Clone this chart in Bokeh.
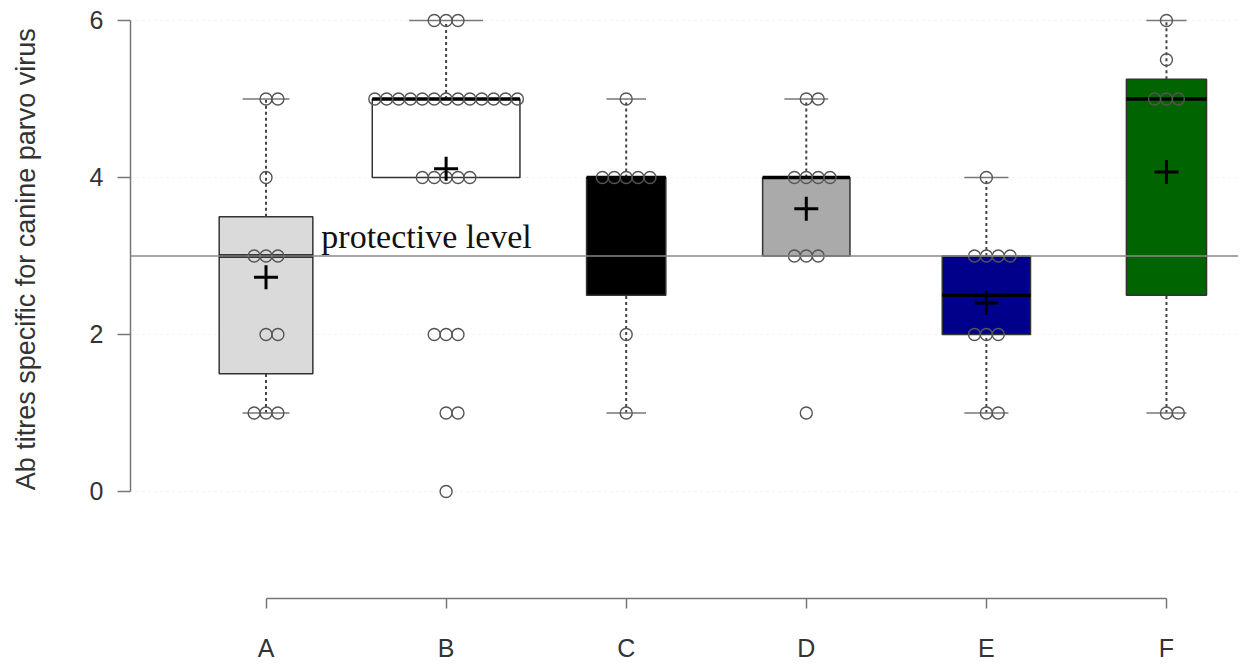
from collections import Counter
from bokeh.plotting import figure
from bokeh.models import Range1d, FixedTicker, Span, Label, LinearAxis
from bokeh.embed import file_html
from bokeh.resources import INLINE

# ---------------- data ----------------
groups = ["A", "B", "C", "D", "E", "F"]
group_pos = [1, 2, 3, 4, 5, 6]
q1 = [1.5, 4.0, 2.5, 3.0, 2.0, 2.5]
medians = [3.0, 5.0, 4.0, 4.0, 2.5, 5.0]
q3 = [3.5, 5.0, 4.0, 4.0, 3.0, 5.25]
whisker_low = [1.0, 4.0, 1.0, 3.0, 1.0, 1.0]
whisker_high = [5.0, 6.0, 5.0, 5.0, 4.0, 6.0]
means = [2.73, 4.11, 3.5, 3.6, 2.4, 4.07]

values_A = [5, 5, 4, 3, 3, 3, 2, 2, 1, 1, 1]
values_B = [6, 6, 6] + [5] * 13 + [4] * 5 + [2, 2, 2, 1, 1, 0]
values_C = [5, 4, 4, 4, 4, 4, 2, 1]
values_D = [5, 5, 4, 4, 4, 4, 3, 3, 3, 1]
values_E = [4, 3, 3, 3, 3, 2, 2, 2, 1, 1]
values_F = [6, 5.5, 5, 5, 5, 1, 1]
all_values = [values_A, values_B, values_C, values_D, values_E, values_F]

protective_level = 3
y_ticks = [0, 2, 4, 6]
y_title = "Ab titres  specific for canine parvo virus"

# ---------------- styles ----------------
box_widths = [0.52, 0.82, 0.44, 0.485, 0.49, 0.445]
box_fills = ["#dadada", "#ffffff", "#000000", "#aaaaaa", "#00008b", "#006400"]
pt_step = 0.066

p = figure(width=1238, height=664, output_backend="svg", toolbar_location=None,
           x_range=Range1d(0.2475, 6.4), y_range=Range1d(-0.115, 6.127),
           x_axis_location=None,
           min_border_left=130, min_border_right=0, min_border_top=10,
           min_border_bottom=164)
p.outline_line_color = None
p.background_fill_color = "white"
p.xgrid.grid_line_color = None
p.ygrid.ticker = FixedTicker(ticks=y_ticks)
p.ygrid.grid_line_color = "#eeeeee"
p.ygrid.grid_line_dash = "2 4"

# boxes
left = [x - w / 2 for x, w in zip(group_pos, box_widths)]
right = [x + w / 2 for x, w in zip(group_pos, box_widths)]
p.quad(left=left, right=right, bottom=q1, top=q3, fill_color=box_fills,
       line_color="#333333", line_width=1.5)

# whiskers (dotted) and caps
wx, wy0, wy1 = [], [], []
cx0, cx1, cy = [], [], []
for x, w, lo, hi, a, b in zip(group_pos, box_widths, whisker_low, whisker_high, q1, q3):
    if hi > b:
        wx.append(x); wy0.append(b); wy1.append(hi)
        cx0.append(x - w / 4); cx1.append(x + w / 4); cy.append(hi)
    if lo < a:
        wx.append(x); wy0.append(lo); wy1.append(a)
        cx0.append(x - w / 4); cx1.append(x + w / 4); cy.append(lo)
p.segment(x0=wx, y0=wy0, x1=wx, y1=wy1, line_color="#444444", line_width=2,
          line_dash="3 3")
p.segment(x0=cx0, y0=cy, x1=cx1, y1=cy, line_color="#777777", line_width=1.5)

# medians
p.segment(x0=left, y0=medians, x1=right, y1=medians, line_color="black",
          line_width=3.5)

# points, swarm-like horizontal spreading
px, py = [], []
for x, vals in zip(group_pos, all_values):
    counts = Counter(vals)
    for v, k in counts.items():
        for i in range(k):
            j = (i + 1) // 2
            off = j if i % 2 == 1 else -j
            px.append(x + off * pt_step)
            py.append(v)
p.scatter(px, py, marker="circle", size=12, fill_color=None,
          line_color="#555555", line_width=1.4)

# means
p.scatter(group_pos, means, marker="cross", size=24, line_color="black",
          line_width=3)

# protective level line
p.add_layout(Span(location=protective_level, dimension="width",
                  line_color="#888888", line_width=1.5))
p.add_layout(Label(x=1.307, y=protective_level, text="protective level",
                   text_font="Liberation Serif", text_font_size="34px",
                   text_color="#111111", text_baseline="bottom", y_offset=1))

# y axis
p.yaxis.ticker = FixedTicker(ticks=y_ticks)
p.yaxis.bounds = (0, 6)
p.yaxis.minor_tick_line_color = None
p.yaxis.major_tick_in = 0
p.yaxis.major_tick_out = 13
p.yaxis.major_label_standoff = 14
p.yaxis.axis_line_color = "#777777"
p.yaxis.axis_line_width = 1.5
p.yaxis.major_tick_line_color = "#777777"
p.yaxis.major_tick_line_width = 1.5
p.yaxis.major_label_text_font = "Liberation Sans"
p.yaxis.major_label_text_font_size = "25px"
p.yaxis.major_label_text_color = "#333333"
p.yaxis.axis_label = y_title
p.yaxis.axis_label_standoff = 46
p.yaxis.axis_label_text_font = "Liberation Sans"
p.yaxis.axis_label_text_font_size = "27px"
p.yaxis.axis_label_text_font_style = "normal"
p.yaxis.axis_label_text_color = "#333333"

# invisible spacer between plotting area and the x axis
spacer = LinearAxis(ticker=FixedTicker(ticks=[3.5]), axis_line_color=None,
                    major_tick_line_color=None, minor_tick_line_color=None,
                    major_tick_in=0, major_tick_out=98, major_label_standoff=0,
                    major_label_overrides={3.5: ""})
p.add_layout(spacer, "below")

# x axis (detached from the plotting area)
xaxis = LinearAxis(ticker=FixedTicker(ticks=group_pos))
xaxis.major_label_overrides = {x: g for x, g in zip(group_pos, groups)}
xaxis.bounds = (1, 6)
xaxis.minor_tick_line_color = None
xaxis.major_tick_in = 0
xaxis.major_tick_out = 10
xaxis.major_label_standoff = 25
xaxis.axis_line_color = "#777777"
xaxis.axis_line_width = 1.5
xaxis.major_tick_line_color = "#777777"
xaxis.major_tick_line_width = 1.5
xaxis.major_label_text_font = "Liberation Sans"
xaxis.major_label_text_font_size = "25px"
xaxis.major_label_text_color = "#333333"
p.add_layout(xaxis, "below")

open("out.html", "w").write(file_html(p, INLINE))
